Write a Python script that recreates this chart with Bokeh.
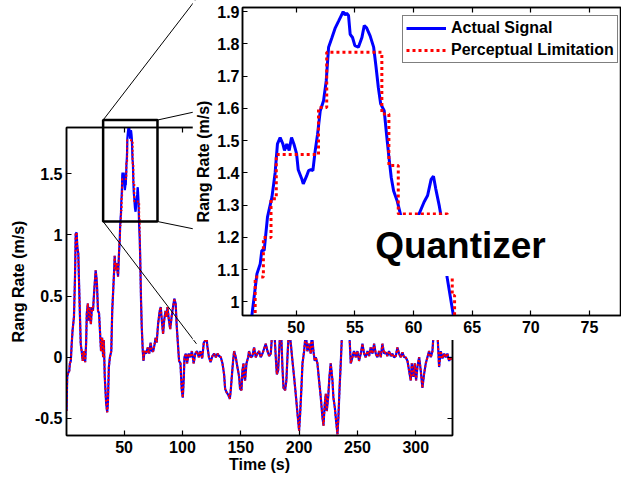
from bokeh.plotting import figure
from bokeh.models import (FixedTicker, LinearAxis, Range1d, Legend, LegendItem, Label)
from bokeh.embed import file_html
from bokeh.resources import INLINE

# ---------------- data ----------------
time_s = [
    0.6, 1.2, 2.0, 3.0, 3.5, 4.3, 5.0, 5.8, 7.0, 7.9,
    8.5, 9.3, 9.9, 10.7, 11.6, 12.8, 13.6, 14.5, 15.7, 16.6,
    17.4, 18.0, 18.9, 19.8, 20.3, 21.5, 22.4, 23.3, 24.4, 25.6,
    26.2, 26.7, 27.6, 28.5, 29.6, 30.2, 31.1, 32.0, 32.6, 33.4,
    34.6, 35.5, 36.1, 36.9, 37.8, 39.0, 39.8, 41.3, 41.9, 42.7,
    43.6, 44.8, 45.6, 46.22, 46.65, 46.93, 47.07, 47.27, 47.55, 47.93,
    48.2, 48.4, 48.63, 48.86, 49.0, 49.2, 49.4, 49.6, 49.8, 50.03,
    50.17, 50.46, 50.6, 50.88, 51.05, 51.25, 51.42, 51.62, 51.82, 52.05,
    52.33, 52.56, 52.76, 53.05, 53.33, 53.6, 53.8, 54.0, 54.17, 54.3,
    54.46, 54.6, 54.8, 55.0, 55.3, 55.6, 55.8, 56.0, 56.3, 56.6,
    56.8, 57.0, 57.2, 57.5, 57.7, 57.9, 58.1, 58.3, 58.6, 58.9,
    59.3, 59.8, 60.2, 60.44, 60.9, 61.2, 61.5, 61.7, 61.9, 62.2,
    62.3, 62.6, 62.86, 63.4, 63.7, 64.0, 64.5, 65.1, 66.0, 66.6,
    67.4, 68.9, 70.3, 71.5, 72.7, 73.8, 75.0, 76.2, 77.0, 77.9,
    79.1, 80.5, 81.4, 82.6, 83.4, 84.3, 85.5, 86.3, 87.2, 88.4,
    89.5, 90.7, 91.9, 93.0, 94.2, 95.0, 95.9, 97.1, 98.3, 99.4,
    100.3, 101.2, 101.7, 102.9, 104.0, 105.2, 106.7, 108.1, 109.6, 111.0,
    112.5, 114.0, 115.4, 116.9, 118.3, 119.8, 120.5, 121.2, 122.7, 124.1,
    125.7, 127.1, 128.6, 130.0, 131.4, 132.9, 134.3, 135.7, 136.6, 138.0,
    139.4, 140.6, 141.4, 142.3, 143.4, 144.3, 145.7, 147.1, 148.6, 149.4,
    150.6, 151.4, 152.3, 152.9, 153.7, 154.9, 156.3, 157.1, 158.6, 160.0,
    161.4, 162.9, 164.3, 165.7, 167.1, 168.6, 170.0, 171.4, 172.9, 174.3,
    175.7, 177.1, 178.6, 180.0, 180.9, 182.0, 182.9, 184.3, 185.7, 186.6,
    188.0, 189.1, 190.0, 191.4, 192.9, 194.3, 195.7, 197.1, 198.6, 200.0,
    200.9, 202.0, 202.9, 204.3, 205.7, 207.1, 208.6, 210.0, 210.9, 212.3,
    213.4, 214.3, 215.7, 217.1, 218.6, 220.0, 220.9, 222.0, 222.9, 223.7,
    224.9, 226.0, 227.1, 228.6, 229.4, 230.6, 231.7, 232.9, 233.7, 234.6,
    235.7, 236.6, 238.5, 240.5, 242.5, 244.3, 245.7, 247.1, 248.6, 250.0,
    251.4, 252.9, 254.3, 255.7, 257.1, 258.6, 260.0, 261.4, 262.9, 264.3,
    265.7, 267.1, 268.6, 270.0, 271.4, 272.9, 274.3, 275.7, 277.1, 278.6,
    280.0, 281.4, 282.9, 284.3, 285.7, 287.1, 288.6, 290.0, 291.4, 292.9,
    294.3, 295.7, 296.6, 298.0, 299.1, 300.3, 301.4, 302.9, 304.3, 305.7,
    307.1, 308.6, 310.0, 311.4, 312.9, 314.3, 315.7, 317.0, 318.6, 320.0,
    321.4, 322.9, 324.3, 325.7, 327.1, 328.6, 330.0, 331.4,
]
rate = [
    -0.44, -0.16, -0.13, -0.11, -0.05, -0.03, 0.10, 0.22, 0.33, 0.66,
    1.01, 1.02, 0.90, 0.85, 0.52, 0.11, 0.05, -0.03, 0.05, -0.04,
    0.11, 0.36, 0.44, 0.30, 0.41, 0.27, 0.41, 0.38, 0.55, 0.71,
    0.66, 0.60, 0.38, 0.36, 0.16, 0.05, 0.16, 0.00, 0.14, -0.16,
    -0.38, -0.45, -0.38, -0.08, 0.00, 0.05, 0.38, 0.68, 0.83, 0.71,
    0.77, 0.66, 0.85, 0.958, 1.087, 1.118, 1.16, 1.16, 1.263, 1.325,
    1.40, 1.49, 1.51, 1.49, 1.47, 1.49, 1.47, 1.51, 1.49, 1.46,
    1.41, 1.383, 1.366, 1.39, 1.407, 1.41, 1.407, 1.47, 1.52, 1.593,
    1.624, 1.686, 1.79, 1.82, 1.85, 1.87, 1.885, 1.90, 1.89, 1.895,
    1.888, 1.83, 1.82, 1.795, 1.79, 1.82, 1.857, 1.85, 1.825, 1.79,
    1.73, 1.665, 1.614, 1.593, 1.52, 1.45, 1.386, 1.345, 1.314, 1.27,
    1.22, 1.19, 1.23, 1.27, 1.31, 1.33, 1.38, 1.39, 1.35, 1.297,
    1.276, 1.17, 1.077, 0.958, 0.85, 0.71, 0.46, 0.25, 0.05, -0.03,
    0.05, 0.03, 0.08, 0.03, 0.12, 0.05, 0.05, 0.11, 0.16, 0.12,
    0.27, 0.38, 0.41, 0.27, 0.19, 0.30, 0.38, 0.33, 0.41, 0.30,
    0.23, 0.33, 0.41, 0.48, 0.44, 0.27, 0.14, -0.03, -0.05, -0.27,
    -0.33, -0.16, 0.00, 0.03, -0.05, 0.03, 0.00, 0.05, -0.05, 0.03,
    0.05, 0.00, 0.05, -0.01, 0.12, 0.14, 0.20, 0.10, 0.00, -0.04,
    0.01, 0.03, 0.00, 0.03, 0.01, 0.00, -0.05, -0.14, -0.26, -0.29,
    -0.31, -0.34, -0.27, -0.16, -0.03, 0.05, 0.00, -0.08, -0.16, -0.26,
    -0.27, -0.11, -0.05, -0.16, -0.19, -0.05, 0.00, 0.05, 0.00, 0.01,
    0.08, 0.00, 0.03, 0.05, 0.00, 0.03, 0.07, 0.11, 0.05, 0.01,
    0.03, 0.22, 0.25, 0.00, -0.14, -0.11, 0.05, 0.30, -0.08, -0.25,
    -0.27, -0.19, 0.00, 0.25, 0.11, -0.03, -0.16, -0.30, -0.46, -0.60,
    -0.46, -0.25, -0.05, 0.05, 0.20, 0.05, 0.11, 0.03, 0.20, 0.05,
    -0.03, 0.00, -0.05, -0.19, -0.33, -0.49, -0.56, -0.38, -0.30, -0.44,
    -0.33, -0.16, -0.05, -0.19, -0.33, -0.41, -0.52, -0.63, -0.49, -0.27,
    -0.05, 0.15, 0.35, 0.45, 0.30, -0.05, 0.00, 0.05, 0.00, 0.05,
    -0.03, 0.03, 0.11, 0.03, 0.00, 0.05, 0.01, 0.08, 0.03, 0.11,
    0.03, 0.00, 0.05, 0.00, 0.11, 0.03, 0.04, 0.01, 0.05, 0.01,
    0.03, 0.00, 0.01, 0.08, 0.03, 0.00, 0.04, 0.00, 0.00, -0.03,
    -0.11, -0.19, -0.05, -0.16, -0.05, -0.19, -0.08, 0.00, -0.11, -0.25,
    -0.14, -0.05, 0.00, 0.05, 0.00, 0.05, 0.25, 0.30, 0.20, -0.08,
    0.05, -0.01, 0.03, 0.00, 0.03, -0.03, 0.00, -0.02,
]
# quantized (perceptual limitation) levels where they part from the signal
quant_t = [45.9, 46.5, 47.2, 47.85, 48.3, 51.9, 52.6, 57.3, 57.9, 58.7, 62.9, 63.3, 63.5]
quant_v = [0.95, 1.077, 1.20, 1.32, 1.457, 1.603, 1.774, 1.583, 1.423, 1.273, 1.14, 1.02, 0.90]

main_xticks = [50, 100, 150, 200, 250, 300]
main_xlabels = ["50", "100", "150", "200", "250", "300"]
main_yticks = [-0.5, 0, 0.5, 1, 1.5]
main_ylabels = ["-0.5", "0", "0.5", "1", "1.5"]
inset_xticks = [50, 55, 60, 65, 70, 75]
inset_xlabels = ["50", "55", "60", "65", "70", "75"]
inset_yticks = [1.0, 1.1, 1.2, 1.3, 1.4, 1.5, 1.6, 1.7, 1.8, 1.9]
inset_ylabels = ["1", "1.1", "1.2", "1.3", "1.4", "1.5", "1.6", "1.7", "1.8", "1.9"]

# zoom rectangle on the main axes and the end points of its connector lines
zoom_left, zoom_right, zoom_bottom, zoom_top = 32.0, 78.6, 1.11, 1.94
conn_x0 = [zoom_left, zoom_right, zoom_right, zoom_left]
conn_y0 = [zoom_top, zoom_top, zoom_bottom, zoom_bottom]
conn_x1 = [117.5, 112.0, 112.0, 112.0]
conn_y1 = [3.0, 2.01, 1.045, 0.11]

assert len(time_s) == len(rate)

# perceptual-limitation trace: the signal outside the quantized stretch, steps inside
red_t, red_v = [], []
for t, v in zip(time_s, rate):
    if t < quant_t[0]:
        red_t.append(t); red_v.append(v)
for i, (tq, vq) in enumerate(zip(quant_t, quant_v)):
    if i > 0:
        red_t.append(tq); red_v.append(quant_v[i - 1])
    red_t.append(tq); red_v.append(vq)
for t, v in zip(time_s, rate):
    if t > quant_t[-1] + 0.1:
        red_t.append(t); red_v.append(v)

FONT = "Liberation Sans"
W, H = 621, 479
MAIN_L, MAIN_T, MAIN_W, MAIN_H = 66, 127, 386, 308
MAIN_X = (0.6, 331.5)
MAIN_Y = (-0.64, 1.879)
INSET_LEFT = 192


def style_axis(ax, ticks, labels, show_labels=True):
    ax.ticker = FixedTicker(ticks=ticks)
    ax.major_label_overrides = {t: l for t, l in zip(ticks, labels)}
    ax.major_tick_in = 5
    ax.major_tick_out = 0
    ax.minor_tick_in = 0
    ax.minor_tick_out = 0
    ax.axis_line_width = 1.5
    ax.axis_line_color = "black"
    ax.major_tick_line_width = 1.2
    ax.major_tick_line_color = "black"
    ax.major_label_text_font = FONT
    ax.major_label_text_font_style = "bold"
    ax.major_label_text_color = "black"
    ax.axis_label_text_font = FONT
    ax.axis_label_text_font_style = "bold"
    ax.axis_label_text_font_size = "16px"
    ax.axis_label_text_color = "black"
    if show_labels:
        ax.major_label_text_font_size = "16px"
    else:
        ax.major_label_text_font_size = "1px"
        ax.major_label_text_color = None
        ax.major_label_standoff = 0


# ---------------- main plot ----------------
main = figure(frame_width=MAIN_W, frame_height=MAIN_H,
              min_border_left=MAIN_L, min_border_right=W - MAIN_L - MAIN_W,
              min_border_top=MAIN_T, min_border_bottom=H - MAIN_T - MAIN_H,
              x_range=Range1d(*MAIN_X), y_range=Range1d(*MAIN_Y),
              x_axis_label="Time (s)", y_axis_label="Rang Rate (m/s)",
              output_backend="svg", toolbar_location=None)
main.grid.visible = False
main.outline_line_color = "black"
main.outline_line_width = 1.5
main.background_fill_color = "white"
main.border_fill_color = "white"

style_axis(main.xaxis[0], main_xticks, main_xlabels)
style_axis(main.yaxis[0], main_yticks, main_ylabels)
main.xaxis[0].major_label_standoff = 5
main.xaxis[0].axis_label_standoff = 0
main.yaxis[0].major_label_standoff = 4
main.yaxis[0].axis_label_standoff = 5

top_ax = LinearAxis()
style_axis(top_ax, main_xticks, main_xlabels, show_labels=False)
main.add_layout(top_ax, "above")
right_ax = LinearAxis()
style_axis(right_ax, main_yticks, main_ylabels, show_labels=False)
main.add_layout(right_ax, "right")

main.line(time_s, rate, line_color="#0000ff", line_width=2.2)
main.line(red_t, red_v, line_color="#ff0000", line_width=2, line_dash="2 2")

# ---------------- overlay in the main plot's data units, whole window ----------------
sx = (MAIN_X[1] - MAIN_X[0]) / MAIN_W
sy = (MAIN_Y[1] - MAIN_Y[0]) / MAIN_H
over = figure(frame_width=W, frame_height=H, min_border=0,
              x_range=Range1d(MAIN_X[0] - MAIN_L * sx, MAIN_X[0] + (W - MAIN_L) * sx),
              y_range=Range1d(MAIN_Y[0] - (H - MAIN_T - MAIN_H) * sy, MAIN_Y[1] + MAIN_T * sy),
              x_axis_location=None, y_axis_location=None,
              output_backend="svg", toolbar_location=None)
over.grid.visible = False
over.outline_line_color = None
over.background_fill_alpha = 0
over.border_fill_alpha = 0
over.segment(conn_x0, conn_y0, conn_x1, conn_y1, line_color="black", line_width=1)
over.quad(left=[zoom_left], right=[zoom_right], bottom=[zoom_bottom], top=[zoom_top],
          fill_color=None, line_color="black", line_width=2.5)

# ---------------- inset ----------------
inset = figure(frame_width=W - INSET_LEFT - 50, frame_height=308,
               min_border_left=50, min_border_right=0,
               min_border_top=7, min_border_bottom=25,
               x_range=Range1d(45.42, 77.73), y_range=Range1d(0.958, 1.913),
               y_axis_label="Rang Rate (m/s)",
               output_backend="svg", toolbar_location=None)
inset.grid.visible = False
inset.outline_line_color = "black"
inset.outline_line_width = 1.5
inset.background_fill_color = "white"
inset.border_fill_color = "white"
style_axis(inset.xaxis[0], inset_xticks, inset_xlabels)
style_axis(inset.yaxis[0], inset_yticks, inset_ylabels)
inset.xaxis[0].major_label_standoff = 5
inset.yaxis[0].major_label_standoff = 3
inset.yaxis[0].axis_label_standoff = 2
itop = LinearAxis()
style_axis(itop, inset_xticks, inset_xlabels, show_labels=False)
inset.add_layout(itop, "above")

r_blue = inset.line(time_s, rate, line_color="#0000ff", line_width=3)
r_red = inset.line(red_t, red_v, line_color="#ff0000", line_width=3, line_dash="3 3")

inset.add_layout(Label(x=64.0, y=1.175, text="Quantizer", text_align="center",
                       text_baseline="middle", text_font=FONT, text_font_style="bold",
                       text_font_size="37px", text_color="black",
                       background_fill_color="white", background_fill_alpha=1,
                       padding=10))

legend = Legend(items=[LegendItem(label="Actual Signal", renderers=[r_blue]),
                       LegendItem(label="Perceptual Limitation", renderers=[r_red])],
                location=(160, 252), orientation="vertical",
                label_text_font=FONT, label_text_font_style="bold",
                label_text_font_size="16px", label_text_color="black",
                border_line_color="black", border_line_width=1.2,
                background_fill_color="white", background_fill_alpha=1,
                padding=3, margin=0, spacing=4, glyph_width=40, glyph_height=18,
                label_height=18, label_standoff=5)
inset.add_layout(legend)

main.styles = {"position": "absolute", "left": "0px", "top": "0px", "z-index": "0"}
over.styles = {"position": "absolute", "left": "0px", "top": "0px", "z-index": "1"}
inset.styles = {"position": "absolute", "left": f"{INSET_LEFT}px", "top": "0px", "z-index": "2"}

open("out.html", "w").write(file_html([main, over, inset], INLINE))
